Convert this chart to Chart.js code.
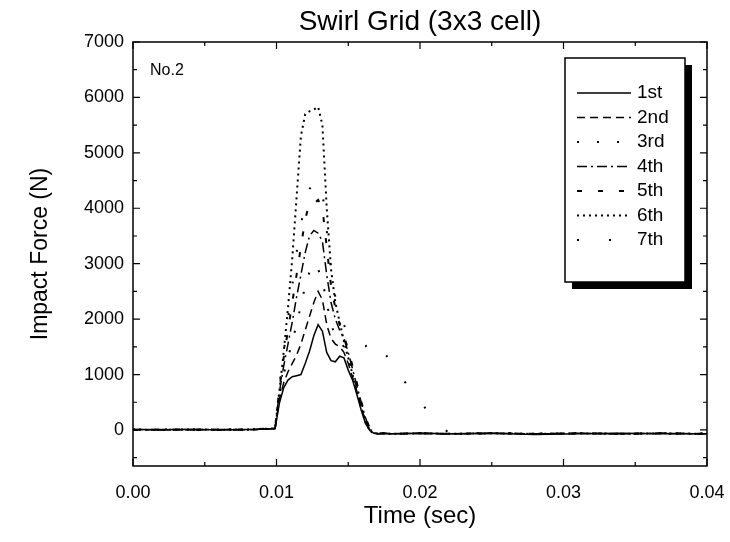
<!DOCTYPE html>
<html>
<head>
<meta charset="utf-8">
<script src="https://cdn.jsdelivr.net/npm/chart.js@4/dist/chart.umd.min.js"></script>
<style>
  body { margin: 0; background: #fff; }
  #wrap { width: 730px; height: 542px; }
</style>
</head>
<body>
<div id="wrap"><canvas id="myChart" width="730" height="542"></canvas></div>
<script>
// time in ms (converted to seconds below)
var timeMs = [0, 2, 4, 6, 8, 9.9, 10.2, 10.5, 10.8, 11.1, 11.4, 11.7, 12.0, 12.3, 12.6, 12.9, 13.2, 13.5, 13.8, 14.1,
  14.4, 14.7, 15.0, 15.3, 15.6, 15.9, 16.2, 16.5, 16.8, 17.1, 17.4, 18, 20, 22, 25, 28, 31, 34, 37, 40];

var labels = ['1st', '2nd', '3rd', '4th', '5th', '6th', '7th'];

var hit1 = [10, 5, 15, 0, 10, 20, 480, 760, 900, 960, 980, 1000, 1200, 1420, 1700, 1900, 1780, 1400, 1250, 1230,
  1330, 1300, 1080, 900, 640, 360, 120, -10, -60, -70, -60, -70, -60, -70, -60, -80, -70, -60, -70, -70];
var hit2 = [0, 10, 0, 10, 5, 20, 550, 850, 1050, 1200, 1350, 1550, 1800, 2050, 2300, 2500, 2350, 1900, 1650, 1550,
  1500, 1400, 1200, 950, 700, 420, 160, 0, -60, -70, -60, -70, -60, -70, -60, -70, -60, -70, -60, -70];
var hit3 = [5, 0, 10, 0, 10, 25, 620, 1000, 1300, 1600, 1900, 2250, 2600, 2850, 3000, 2900, 2700, 2300, 1900, 1700,
  1600, 1500, 1300, 1050, 780, 470, 200, 10, -50, -70, -60, -70, -60, -70, -60, -70, -60, -70, -60, -70];
var hit4 = [10, 0, 5, 10, 0, 30, 680, 1150, 1550, 1950, 2400, 2800, 3200, 3500, 3600, 3550, 3400, 2800, 2300, 2000,
  1800, 1650, 1400, 1100, 800, 500, 220, 20, -50, -70, -60, -70, -60, -70, -60, -70, -60, -70, -60, -70];
var hit5 = [0, 10, 5, 0, 10, 30, 750, 1300, 1800, 2300, 2800, 3300, 3800, 4100, 4080, 4150, 4000, 3300, 2600, 2200,
  1900, 1700, 1450, 1150, 850, 520, 230, 30, -50, -70, -60, -70, -60, -70, -60, -70, -60, -70, -60, -70];
var hit6 = [10, 0, 10, 5, 10, 30, 700, 1400, 2200, 3100, 4200, 5300, 5700, 5750, 5780, 5830, 5500, 4000, 2900, 2300,
  1950, 1600, 1300, 1000, 700, 400, 150, -20, -60, -70, -60, -70, -60, -70, -60, -70, -60, -70, -60, -70];
var hit7 = [5, 10, 0, 10, 5, 30, 800, 1400, 2000, 2600, 3200, 3700, 4100, 4350, 4450, 4500, 4300, 3600, 2900, 2400,
  2100, 1900, 1700, 1600, 1550, 1520, 1510, 1560, 1600, 1620, 1450, 1200, 500, -60, -50, -60, -70, -60, -70, -60];

var xTicks = [0, 0.01, 0.02, 0.03, 0.04];
var yTicks = [0, 1000, 2000, 3000, 4000, 5000, 6000, 7000];

var allHits = [hit1, hit2, hit3, hit4, hit5, hit6, hit7];
var dashes = [[], [8, 5], [2, 18], [10, 4, 2, 4], [5, 16], [2, 4], [2, 30]];
var widths = [1.5, 1.5, 2, 1.5, 2, 2, 2];

function toPoints(vals) {
    return vals.map(function (v, i) { return { x: timeMs[i] / 1000, y: v }; });
}

var datasets = allHits.map(function (vals, i) {
    return {
        label: labels[i],
        data: toPoints(vals),
        borderColor: '#000',
        borderWidth: widths[i],
        borderDash: dashes[i],
        pointRadius: 0,
        fill: false,
        tension: 0
    };
});

var FONT = 'Liberation Sans, Arial, sans-serif';

// title, frame, inward ticks, legend box and label
var decor = {
    id: 'decor',
    afterDraw: function (chart) {
        var c = chart.ctx, a = chart.chartArea;
        var xs = chart.scales.x, ys = chart.scales.y;
        c.save();
        c.fillStyle = '#000';
        c.font = '28px ' + FONT;
        c.textAlign = 'center';
        c.textBaseline = 'middle';
        c.fillText('Swirl Grid (3x3 cell)', (a.left + a.right) / 2, 22);

        c.strokeStyle = '#000';
        c.lineWidth = 1.5;
        c.strokeRect(a.left, a.top, a.right - a.left, a.bottom - a.top);
        c.lineWidth = 1.2;
        c.beginPath();
        for (var t = 0; t <= 0.0401; t += 0.005) {
            var px = xs.getPixelForValue(t);
            var len = (Math.round(t * 1000) % 10 === 0) ? 7 : 4;
            c.moveTo(px, a.bottom); c.lineTo(px, a.bottom - len);
            c.moveTo(px, a.top); c.lineTo(px, a.top + len);
        }
        for (var v = -500; v <= 7000; v += 500) {
            var py = ys.getPixelForValue(v);
            var l2 = (v % 1000 === 0) ? 7 : 4;
            c.moveTo(a.left, py); c.lineTo(a.left + l2, py);
            c.moveTo(a.right, py); c.lineTo(a.right - l2, py);
        }
        c.stroke();

        // legend box with shadow
        var bx = 565, by = 58, bw = 120, bh = 224;
        c.fillStyle = '#000';
        c.fillRect(bx + 7, by + 7, bw, bh);
        c.fillStyle = '#fff';
        c.fillRect(bx, by, bw, bh);
        c.lineWidth = 1.5;
        c.strokeRect(bx, by, bw, bh);
        c.font = '19px ' + FONT;
        c.textAlign = 'left';
        chart.data.datasets.forEach(function (ds, i) {
            var ry = 93 + i * 24.5;
            c.beginPath();
            c.setLineDash(ds.borderDash);
            c.lineWidth = ds.borderWidth;
            c.moveTo(577, ry); c.lineTo(631, ry);
            c.stroke();
            c.setLineDash([]);
            c.fillStyle = '#000';
            c.fillText(ds.label, 637, ry);
        });

        c.font = '16px ' + FONT;
        c.fillText('No.2', 150, 71);
        c.restore();
    }
};

var ctx = document.getElementById('myChart').getContext('2d');
var myChart = new Chart(ctx, {
    type: 'line',
    data: { datasets: datasets },
    options: {
        responsive: false,
        animation: false,
        layout: { padding: { top: 42, right: 23 } },
        plugins: {
            legend: { display: false },
            tooltip: { enabled: false },
            title: { display: false }
        },
        scales: {
            x: {
                type: 'linear',
                min: 0,
                max: 0.04,
                afterBuildTicks: function (s) { s.ticks = xTicks.map(function (v) { return { value: v }; }); },
                afterFit: function (s) { s.height = 76; s.paddingLeft = 0; s.paddingRight = 0; },
                grid: { display: false, drawTicks: false },
                border: { display: false },
                ticks: {
                    color: '#000',
                    font: { family: FONT, size: 18 },
                    padding: 16,
                    maxRotation: 0,
                    callback: function (v) { return Number(v).toFixed(2); }
                },
                title: {
                    display: true,
                    text: 'Time (sec)',
                    color: '#000',
                    font: { family: FONT, size: 24 },
                    padding: { top: 0, bottom: 11 }
                }
            },
            y: {
                min: -650,
                max: 7000,
                afterBuildTicks: function (s) { s.ticks = yTicks.map(function (v) { return { value: v }; }); },
                afterFit: function (s) { s.width = 133; s.paddingTop = 0; s.paddingBottom = 0; },
                grid: { display: false, drawTicks: false },
                border: { display: false },
                ticks: {
                    color: '#000',
                    font: { family: FONT, size: 18 },
                    padding: 9,
                    callback: function (v) { return String(v); }
                },
                title: {
                    display: true,
                    text: 'Impact Force (N)',
                    color: '#000',
                    font: { family: FONT, size: 23 },
                    padding: { top: 27, bottom: 0 }
                }
            }
        }
    },
    plugins: [decor]
});
</script>
</body>
</html>
